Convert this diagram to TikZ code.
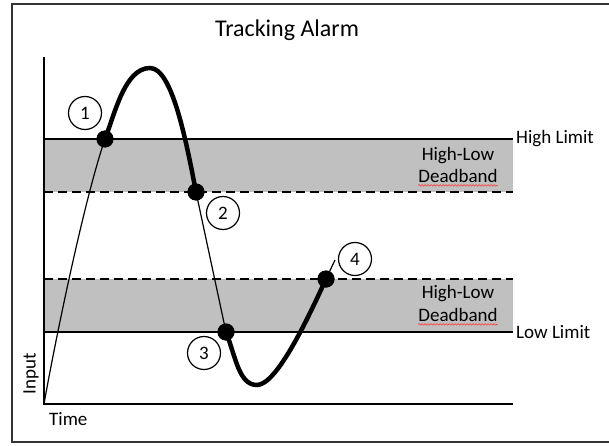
\documentclass[tikz,border=0pt]{standalone}
\usepackage{fontspec}
\setmainfont{Carlito}
\usetikzlibrary{positioning,decorations.pathmorphing}
\definecolor{bandgray}{RGB}{192,192,192}
\tikzset{
    dot/.style ={
        shape=circle,
        fill=black,
        minimum size=17pt,
        inner sep=0pt
    },
    marker/.style ={
        shape=circle,
        draw=black,
        line width=1.2pt,
        minimum size=33pt,
        inner sep=0pt,
        font=\fontsize{19}{22}\selectfont
    },
    lbl/.style ={
        inner sep=0pt,
        font=\fontsize{19}{22}\selectfont
    },
    thinline/.style ={line width=1.2pt},
    thickline/.style ={line width=4.5pt, line cap=round},
    limitline/.style ={line width=1.4pt},
    deadline/.style ={line width=1.4pt, dash pattern=on 9pt off 5pt},
    squiggle/.style ={
        red!80,
        line width=0.6pt,
        decorate,
        decoration={snake, amplitude=0.8pt, segment length=3pt}
    }
}

\begin{document}
\begin{tikzpicture}[x=1pt,y=-1pt]
    \useasboundingbox (0,0) rectangle (609,446);
    \draw[line width=1.5pt, black!80] (12,4) rectangle (620,442);
    \node[lbl, font=\fontsize{24}{28}\selectfont] (title) at (287,30) {Tracking Alarm};

    % deadbands
    \fill[bandgray] (44,139) rectangle (513,192);
    \fill[bandgray] (44,279) rectangle (513,332);

    % axes
    \coordinate (o) at (44,404);
    \coordinate (ytop) at (44,57);
    \coordinate (xend) at (513,404);
    \draw[thinline] (ytop) -- (o) -- (xend);
    \node[lbl, anchor=west] (time) at (49,419) {Time};
    \node[lbl, rotate=90] (input) at (31,374) {Input};

    % limits
    \coordinate (hi) at (44,139);
    \coordinate (hiend) at (513,139);
    \coordinate (hidb) at (44,192);
    \coordinate (hidbend) at (513,192);
    \coordinate (lodb) at (44,279);
    \coordinate (lodbend) at (513,279);
    \coordinate (lo) at (44,332);
    \coordinate (loend) at (513,332);
    \draw[limitline] (hi) -- (hiend);
    \draw[limitline] (lo) -- (loend);
    \draw[deadline] (hidb) -- (hidbend);
    \draw[deadline] (lodb) -- (lodbend);
    \node[lbl, right=3pt of hiend] (hilim) {High Limit};
    \node[lbl, right=3pt of loend] (lolim) {Low Limit};

    \node[lbl] (hl1) at (458,156) {High-Low};
    \node[lbl] (db1) at (458,176) {Deadband};
    \node[lbl] (hl2) at (458,294) {High-Low};
    \node[lbl] (db2) at (458,315) {Deadband};
    \draw[squiggle] ([yshift=-2.5pt]db1.south west) -- ([yshift=-2.5pt]db1.south east);
    \draw[squiggle] ([yshift=-2.5pt]db2.south west) -- ([yshift=-2.5pt]db2.south east);

    % input curve
    \coordinate (pk) at (150,68);
    \coordinate (mn) at (257,385);
    \coordinate (t4) at (335,260);
    \node[dot] (d1) at (105,139) {};
    \node[dot] (d2) at (196,192) {};
    \node[dot] (d3) at (226,332) {};
    \node[dot] (d4) at (326,279) {};
    \draw[thinline] (o) to[out=80,in=251,looseness=0.6] (d1.center);
    \draw[thickline] (d1.center) .. controls (115,113) and (125,68) .. (pk)
        .. controls (172,68) and (186,140) .. (d2.center);
    \draw[thinline] (d2.center) -- (d3.center);
    \draw[thickline] (d3.center) .. controls (236,358) and (239,385) .. (mn)
        .. controls (277,385) and (309,316) .. (d4.center);
    \draw[thinline] (d4.center) -- (t4);
    \node[dot] at (d1) {};
    \node[dot] at (d2) {};
    \node[dot] at (d3) {};
    \node[dot] at (d4) {};

    \node[marker] (c1) at (85,113) {1};
    \node[marker] (c2) at (223,213) {2};
    \node[marker] (c3) at (204,353) {3};
    \node[marker] (c4) at (355,259) {4};
\end{tikzpicture}
\end{document}
